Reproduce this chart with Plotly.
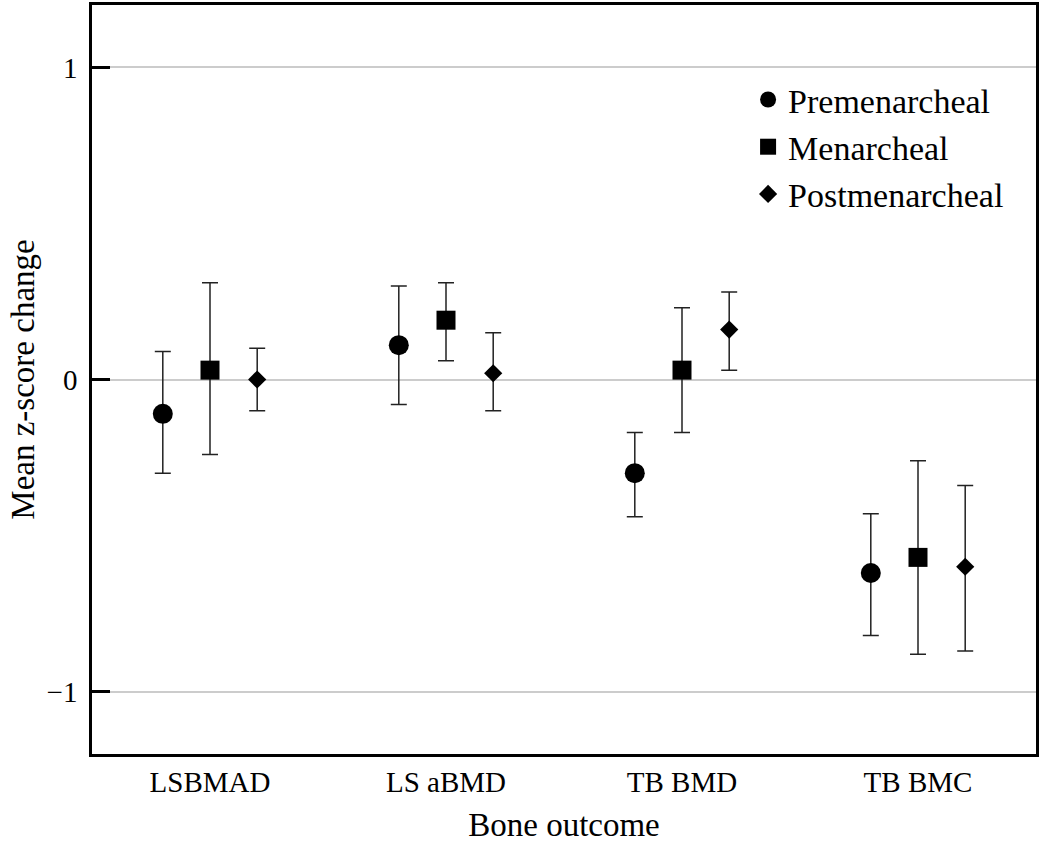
import plotly.graph_objects as go

categories = ["LSBMAD", "LS aBMD", "TB BMD", "TB BMC"]
groups = ["Premenarcheal", "Menarcheal", "Postmenarcheal"]

pre_mean = [-0.11, 0.11, -0.30, -0.62]
pre_low = [-0.30, -0.08, -0.44, -0.82]
pre_high = [0.09, 0.30, -0.17, -0.43]

men_mean = [0.03, 0.19, 0.03, -0.57]
men_low = [-0.24, 0.06, -0.17, -0.88]
men_high = [0.31, 0.31, 0.23, -0.26]

post_mean = [0.00, 0.02, 0.16, -0.60]
post_low = [-0.10, -0.10, 0.03, -0.87]
post_high = [0.10, 0.15, 0.28, -0.34]

yticks = [-1, 0, 1]
ytick_labels = ["\u22121", "0", "1"]

series = [
    (pre_mean, pre_low, pre_high, "circle", 20),
    (men_mean, men_low, men_high, "square", 19),
    (post_mean, post_low, post_high, "diamond", 14),
]
offsets = [-0.2, 0.0, 0.2]

FONT = "Liberation Serif"

fig = go.Figure()
for (name, (mean, low, high, sym, size), off) in zip(groups, series, offsets):
    xs = [i + off for i in range(len(categories))]
    fig.add_trace(go.Scatter(
        x=xs, y=mean, mode="markers", name=name,
        marker=dict(symbol=sym, size=size, color="black"),
        error_y=dict(
            type="data", symmetric=False,
            array=[h - m for h, m in zip(high, mean)],
            arrayminus=[m - l for m, l in zip(mean, low)],
            color="#222222", thickness=1.5, width=8,
        ),
    ))

fig.update_layout(
    width=1040, height=843,
    margin=dict(l=92, r=1, t=5, b=89),
    paper_bgcolor="white", plot_bgcolor="white",
    font=dict(family=FONT, color="black", size=28),
    showlegend=True,
    legend=dict(
        x=0.695, y=0.912, xanchor="left", yanchor="top",
        font=dict(size=34, family=FONT),
        bgcolor="rgba(0,0,0,0)",
    ),
)
fig.update_xaxes(
    range=[-0.5, 3.5],
    tickmode="array", tickvals=list(range(len(categories))), ticktext=categories,
    showgrid=False, zeroline=False,
    showline=True, linecolor="black", linewidth=2.5, mirror=True,
    ticks="", tickfont=dict(size=29, family=FONT),
    title=dict(text="Bone outcome", font=dict(size=33, family=FONT), standoff=18),
)
fig.update_yaxes(
    range=[-1.2, 1.2],
    tickmode="array", tickvals=yticks, ticktext=ytick_labels,
    showgrid=True, gridcolor="#cccccc", gridwidth=1.5, zeroline=False,
    showline=True, linecolor="black", linewidth=2.5, mirror=True,
    ticks="inside", ticklen=18, tickwidth=2.5, tickcolor="black",
    ticklabelstandoff=6,
    tickfont=dict(size=29, family=FONT),
    title=dict(text="Mean z-score change", font=dict(size=33, family=FONT), standoff=3),
)

fig.write_html("out.html", config={"displayModeBar": False},
               post_script="document.body.style.margin='0';")
